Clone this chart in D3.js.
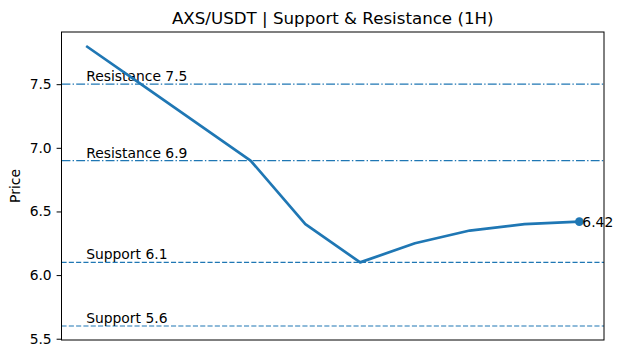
<!DOCTYPE html>
<html><head><meta charset="utf-8">
<script src="https://cdn.jsdelivr.net/npm/d3@7"></script>
<style>body{margin:0;background:#fff}svg{display:block;font-family:"DejaVu Sans",sans-serif}</style>
</head><body><svg id="c" width="624" height="357"></svg>
<script>
const prices = [7.8, 7.5, 7.2, 6.9, 6.4, 6.1, 6.25, 6.35, 6.4, 6.42];
const levelNames = ["Resistance", "Resistance", "Support", "Support"];
const levelValues = [7.5, 6.9, 6.1, 5.6];
const levelStyles = ["dashdot", "dashdot", "dashed", "dashed"];
const yTicks = [5.5, 6.0, 6.5, 7.0, 7.5];
const title = "AXS/USDT | Support & Resistance (1H)";
const lastLabel = "6.42";

const svg = d3.select("#c");
const L = 61.5, R = 604, T = 32, B = 340;
const color = "#1f77b4";
const fs = "13.89px";
const n = prices.length;
const x = d3.scaleLinear().domain([-0.45, n - 1 + 0.45]).range([L, R]);
const allY = prices.concat(levelValues);
const ymin = d3.min(allY), ymax = d3.max(allY), pad = (ymax - ymin) * 0.05;
const y = d3.scaleLinear().domain([ymin - pad, ymax + pad]).range([B, T]);

// level lines
levelValues.forEach((v, i) => {
  svg.append("line").attr("x1", L).attr("x2", R).attr("y1", y(v)).attr("y2", y(v))
    .attr("stroke", color).attr("stroke-width", 1.2)
    .attr("stroke-dasharray", levelStyles[i] === "dashed" ? "5.1,2.2" : "8.9,2.2,1.4,2.2");
  svg.append("text").attr("x", x(0)).attr("y", y(v) - 3)
    .attr("font-size", fs).attr("fill", "#000")
    .text(levelNames[i] + " " + v);
});

// price line
svg.append("path").datum(prices)
  .attr("d", d3.line().x((d, i) => x(i)).y(d => y(d)))
  .attr("fill", "none").attr("stroke", color).attr("stroke-width", 2.7)
  .attr("stroke-linejoin", "round").attr("stroke-linecap", "butt");
svg.append("circle").attr("cx", x(n - 1)).attr("cy", y(prices[n - 1])).attr("r", 4.3).attr("fill", color);
svg.append("text").attr("x", x(n - 1) + 3).attr("y", y(prices[n - 1]))
  .attr("dy", "0.36em").attr("font-size", fs).text(lastLabel);

// frame
svg.append("rect").attr("x", L).attr("y", T).attr("width", R - L).attr("height", B - T)
  .attr("fill", "none").attr("stroke", "#000").attr("stroke-width", 1);

// y axis
const yAxis = d3.axisLeft(y).tickValues(yTicks).tickFormat(d3.format(".1f")).tickSize(4.9).tickPadding(4.9);
const ga = svg.append("g").attr("transform", `translate(${L},0)`).call(yAxis);
ga.select(".domain").remove();
ga.selectAll("text").attr("font-size", fs).attr("font-family", "DejaVu Sans").attr("fill", "#000");
ga.selectAll("line").attr("stroke", "#000");

svg.append("text").attr("transform", `translate(20,${(T + B) / 2}) rotate(-90)`)
  .attr("text-anchor", "middle").attr("font-size", fs).text("Price");

svg.append("text").attr("x", (L + R) / 2).attr("y", 23.5).attr("text-anchor", "middle")
  .attr("font-size", "16.67px").text(title);
</script></body></html>
